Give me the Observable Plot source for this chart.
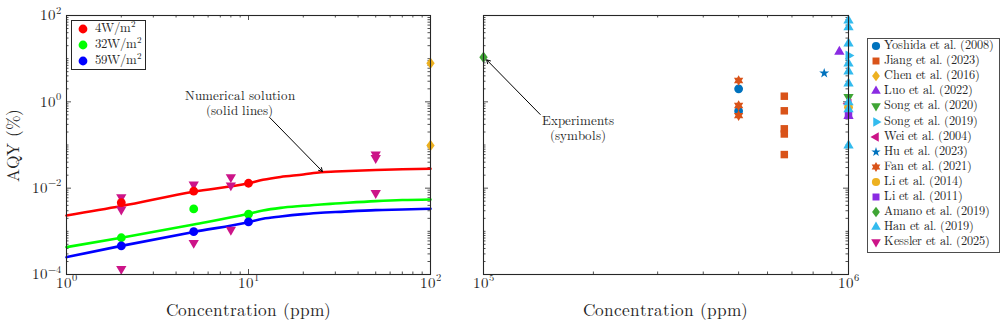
<!DOCTYPE html>
<html>
<head>
<meta charset="utf-8">
<script src="https://cdn.jsdelivr.net/npm/d3@7"></script>
<script src="https://cdn.jsdelivr.net/npm/@observablehq/plot@0.6"></script>
<style>
  /* Computer Modern with a compact line box (glyphs unchanged) */
  @font-face {
    font-family: "CM Tight";
    src: local("CMU Serif Roman"), local("CMUSerif-Roman"), local("CMU Serif"),
         local("LMRoman10-Regular"), local("Latin Modern Roman 10 Regular"), local("Latin Modern Roman");
    ascent-override: 78%;
    descent-override: 22%;
    line-gap-override: 0%;
  }
  body { margin: 0; background: #fff; }
  #fig { position: relative; width: 1006px; height: 327px; overflow: hidden;
         font-family: "CM Tight", "CMU Serif", "Latin Modern Roman", "Liberation Serif", serif; color: #262626; }
  #fig svg.panel { position: absolute; top: 0; overflow: visible; }
  .lbl { position: absolute; white-space: nowrap; transform: translate(-50%, -50%); line-height: 1; }
  .legend { position: absolute; background: #fff; box-sizing: border-box; }
  .legend .row { position: absolute; left: 0; white-space: nowrap; line-height: 1; }
  .legend svg { position: absolute; overflow: visible; }
  .legend .txt { position: absolute; transform: translateY(-50%); }
  sup { font-size: 9px; vertical-align: 5px; line-height: 0; }
</style>
</head>
<body>
<div id="fig"></div>
<script>
// ---------- model: AQY (%) vs NO concentration (ppm), numerical solution ----------
const concGrid = [1, 2, 5, 10, 12, 15, 20, 25, 30, 50, 70, 100];
const aqy4W  = [0.00233, 0.00387, 0.0083, 0.0130, 0.0156, 0.0182, 0.0207, 0.0234, 0.0243, 0.0264, 0.0274, 0.0281];
const aqy32W = [0.00043, 0.00071, 0.00144, 0.00255, 0.00304, 0.0035, 0.0039, 0.0042, 0.0044, 0.0050, 0.0053, 0.00546];
const aqy59W = [0.000252, 0.00046, 0.00097, 0.00163, 0.00195, 0.0022, 0.0025, 0.0027, 0.0028, 0.0031, 0.0032, 0.00333];

// model evaluations shown as filled circles
const modelConc = [2, 5, 10];
const point4W  = [0.0046, 0.0085, 0.013];
const point32W = [0.00071, 0.0033, 0.0025];
const point59W = [0.00046, 0.00098, 0.00165];
const irradianceLabels = ["4", "32", "59"];

// ---------- experiments: [concentration (ppm), AQY (%)] ----------
const studies = ["Yoshida et al. (2008)", "Jiang et al. (2023)", "Chen et al. (2016)", "Luo et al. (2022)",
  "Song et al. (2020)", "Song et al. (2019)", "Wei et al. (2004)", "Hu et al. (2023)", "Fan et al. (2021)",
  "Li et al. (2014)", "Li et al. (2011)", "Amano et al. (2019)", "Han et al. (2019)", "Kessler et al. (2025)"];
const yoshida2008 = [[5e5, 2.0], [5e5, 0.61]];
const jiang2023   = [[6.67e5, 1.35], [6.67e5, 0.62], [6.67e5, 0.237], [6.67e5, 0.18], [6.67e5, 0.060]];
const chen2016    = [[100, 7.85], [100, 0.0975]];
const luo2022     = [[9.44e5, 14.5], [1e6, 0.47]];
const song2020    = [[1e6, 1.3]];
const song2019    = [[1e6, 11.8]];
const wei2004     = [[1e6, 0.9]];
const hu2023      = [[8.58e5, 4.6]];
const fan2021     = [[5e5, 3.12], [5e5, 0.82], [5e5, 0.48]];
const li2014      = [[1e6, 0.75]];
const li2011      = [[1e6, 0.5]];
const amano2019   = [[1e5, 10.8]];
const han2019     = [[1e6, 76], [1e6, 53], [1e6, 22.4], [1e6, 7.7], [1e6, 5.05], [1e6, 2.66], [1e6, 0.97], [1e6, 0.67], [1e6, 0.0975]];
const kessler2025 = [[2, 0.0062], [2, 0.0032], [2, 0.000135], [5, 0.0122], [5, 0.00054],
                     [8, 0.018], [8, 0.0116], [8, 0.00109], [50, 0.060], [50, 0.050], [50, 0.0077]];
const studyData = [yoshida2008, jiang2023, chen2016, luo2022, song2020, song2019, wei2004, hu2023,
                   fan2021, li2014, li2011, amano2019, han2019, kessler2025];

// ---------- axes ----------
const xDomainLeft = [1, 100];
const xDomainRight = [1e5, 1e6];
const yDomain = [1e-4, 1e2];
const xLabelsLeft = [1, 10, 100];
const xLabelsRight = [1e5, 1e6];
const yLabels = [1e-4, 1e-2, 1, 1e2];

// ---------- styling ----------
const ink = "#262626";
const serif = "CM Tight, CMU Serif, Latin Modern Roman, Liberation Serif, serif";
const modelColors = ["#ff0000", "#00ff00", "#0000ff"];

const poly = pts => ({ draw(ctx, size) {
  const r = Math.sqrt(size / Math.PI);
  pts.forEach(([a, b], i) => i ? ctx.lineTo(a * r, b * r) : ctx.moveTo(a * r, b * r));
  ctx.closePath();
}});
const tri = (rot) => {
  const R = 1.35;
  return poly([0, 1, 2].map(k => {
    const ang = rot + k * 2 * Math.PI / 3;
    return [R * Math.cos(ang), R * Math.sin(ang)];
  }));
};
const symbols = {
  circle: { draw(ctx, size) { const r = Math.sqrt(size / Math.PI); ctx.moveTo(r, 0); ctx.arc(0, 0, r, 0, 2 * Math.PI); } },
  square: poly([[-0.85, -0.85], [0.85, -0.85], [0.85, 0.85], [-0.85, 0.85]]),
  diamond: poly([[0, -1.3], [0.95, 0], [0, 1.3], [-0.95, 0]]),
  triUp: tri(-Math.PI / 2),
  triDown: tri(Math.PI / 2),
  triRight: tri(0),
  triLeft: tri(Math.PI),
  pentagram: poly(d3.range(10).map(k => {
    const rad = k % 2 ? 0.46 : 1.2, ang = -Math.PI / 2 + k * Math.PI / 5;
    return [rad * Math.cos(ang), rad * Math.sin(ang)];
  })),
  hexagram: { draw(ctx, size) {
    const r = Math.sqrt(size / Math.PI) * 1.22;
    for (const start of [-Math.PI / 2, Math.PI / 2]) {
      for (let k = 0; k < 3; k++) {
        const ang = start + k * 2 * Math.PI / 3;
        k ? ctx.lineTo(r * Math.cos(ang), r * Math.sin(ang)) : ctx.moveTo(r * Math.cos(ang), r * Math.sin(ang));
      }
      ctx.closePath();
    }
  }}
};
const studyStyle = [
  ["#0072bd", symbols.circle], ["#d95319", symbols.square], ["#edb120", symbols.diamond],
  ["#8a2be2", symbols.triUp], ["#3fa535", symbols.triDown], ["#33bbee", symbols.triRight],
  ["#cc1488", symbols.triLeft], ["#0072bd", symbols.pentagram], ["#d95319", symbols.hexagram],
  ["#edb120", symbols.circle], ["#8a2be2", symbols.square], ["#3fa535", symbols.diamond],
  ["#33bbee", symbols.triUp], ["#cc1488", symbols.triDown]
];
const R_MARK = 4.4;

// ---------- helpers ----------
const fig = document.getElementById("fig");
const H = 327, MT = 15, MB = 53, FH = H - MT - MB;

function expOf(v) { return Math.round(Math.log10(v)); }
const powLabel = v => "10^" + expOf(v);
function minorTicks(domain, majors) {
  return d3.scaleLog().domain(domain).ticks().filter(t => !majors.some(m => Math.abs(t / m - 1) < 1e-9));
}
function frameTicks(xDomain, xMajor, yMajor, fw) {
  const xMinor = minorTicks(xDomain, xMajor), yMinor = minorTicks(yDomain, yMajor);
  const s = { stroke: ink, strokeWidth: 0.8 };
  return [
    Plot.tickX(xMinor, { x: d => d, insetTop: FH - 2.5, ...s }),
    Plot.tickX(xMinor, { x: d => d, insetBottom: FH - 2.5, ...s }),
    Plot.tickX(xMajor, { x: d => d, insetTop: FH - 5, ...s }),
    Plot.tickX(xMajor, { x: d => d, insetBottom: FH - 5, ...s }),
    Plot.tickY(yMinor, { y: d => d, insetRight: fw - 2.5, ...s }),
    Plot.tickY(yMinor, { y: d => d, insetLeft: fw - 2.5, ...s }),
    Plot.tickY(yMajor, { y: d => d, insetRight: fw - 5, ...s }),
    Plot.tickY(yMajor, { y: d => d, insetLeft: fw - 5, ...s })
  ];
}
function studyMarks(filter) {
  return studyData.map((pts, i) => Plot.dot(pts.filter(p => filter(p[0])), {
    x: d => d[0], y: d => d[1], r: R_MARK, fill: studyStyle[i][0], symbol: studyStyle[i][1]
  }));
}
function superscripts(svg) {
  svg.querySelectorAll("text").forEach(t => {
    const m = /^(\d+)\^(-?\d+)$/.exec(t.textContent);
    if (!m) return;
    t.textContent = "";
    const ns = "http://www.w3.org/2000/svg";
    const base = document.createElementNS(ns, "tspan");
    base.textContent = m[1];
    const sup = document.createElementNS(ns, "tspan");
    sup.textContent = m[2].replace("-", "\u2212");
    sup.setAttribute("font-size", "10.5");
    sup.setAttribute("dy", "-0.62em");
    t.append(base, sup);
  });
}
function place(svg, left) {
  svg.classList.add("panel");
  svg.style.left = left + "px";
  superscripts(svg);
  fig.appendChild(svg);
}
function label(text, x, y, size, rotate) {
  const d = document.createElement("div");
  d.className = "lbl";
  d.textContent = text;
  d.style.left = x + "px"; d.style.top = y + "px";
  d.style.fontSize = size + "px";
  if (rotate) d.style.transform = "translate(-50%, -50%) rotate(-90deg)";
  fig.appendChild(d);
}
const textStyle = { fontFamily: serif, fill: ink };

// ---------- left panel: low concentration ----------
const leftW = 440, leftML = 66, leftMR = 10;
const curves = [aqy4W, aqy32W, aqy59W].map((ys, k) =>
  concGrid.map((c, i) => ({ c, v: ys[i], k })));
const modelPts = [point4W, point32W, point59W].map((ys, k) =>
  modelConc.map((c, i) => ({ c, v: ys[i], k })));

const left = Plot.plot({
  width: leftW, height: H, marginLeft: leftML, marginRight: leftMR, marginTop: MT, marginBottom: MB,
  style: { fontFamily: serif, fontSize: "15px", color: ink, background: "transparent", overflow: "visible" },
  x: { type: "log", domain: xDomainLeft, axis: null },
  y: { type: "log", domain: yDomain, axis: null },
  marks: [
    ...frameTicks(xDomainLeft, xLabelsLeft, yLabels, leftW - leftML - leftMR),
    ...curves.map((pts, k) => Plot.line(pts, { x: "c", y: "v", stroke: modelColors[k], strokeWidth: 2.6, curve: "monotone-x" })),
    ...studyMarks(c => c <= 100),
    ...modelPts.map((pts, k) => Plot.dot(pts, { x: "c", y: "v", r: 4.4, fill: modelColors[k] })),
    Plot.arrow([{ x1: 13.1, y1: 0.43, x2: 25.7, y2: 0.0235 }],
      { x1: "x1", y1: "y1", x2: "x2", y2: "y2", stroke: "#000", strokeWidth: 1, headLength: 6, insetEnd: 1 }),
    Plot.text(["Numerical solution\n(solid lines)"], { x: 8.94, y: 0.96, fontSize: 13, lineHeight: 1.18, ...textStyle }),
    Plot.frame({ stroke: ink, strokeWidth: 1.1 }),
    Plot.text(xLabelsLeft, { x: d => d, frameAnchor: "bottom", dy: 13, text: powLabel, textAnchor: "middle", fontSize: 15, ...textStyle }),
    Plot.text(yLabels, { y: d => d, frameAnchor: "left", dx: -6, text: powLabel, textAnchor: "end", fontSize: 15, ...textStyle })
  ]
});
place(left, 0);

// ---------- right panel: high concentration ----------
const rightW = 420, rightML = 43, rightMR = 12;
const right = Plot.plot({
  width: rightW, height: H, marginLeft: rightML, marginRight: rightMR, marginTop: MT, marginBottom: MB,
  style: { fontFamily: serif, fontSize: "15px", color: ink, background: "transparent", overflow: "visible" },
  x: { type: "log", domain: xDomainRight, axis: null },
  y: { type: "log", domain: yDomain, axis: null },
  marks: [
    ...frameTicks(xDomainRight, xLabelsRight, yLabels, rightW - rightML - rightMR),
    ...studyMarks(c => c >= 1e5),
    Plot.arrow([{ x1: 1.43e5, y1: 0.51, x2: 1.02e5, y2: 9.4 }],
      { x1: "x1", y1: "y1", x2: "x2", y2: "y2", stroke: "#000", strokeWidth: 1, headLength: 6 }),
    Plot.text(["Experiments\n(symbols)"], { x: 1.81e5, y: 0.252, fontSize: 13, lineHeight: 1.18, ...textStyle }),
    Plot.frame({ stroke: ink, strokeWidth: 1.1 }),
    Plot.text(xLabelsRight, { x: d => d, frameAnchor: "bottom", dy: 13, text: powLabel, textAnchor: "middle", fontSize: 15, ...textStyle })
  ]
});
place(right, 440);

// ---------- axis titles ----------
label("Concentration (ppm)", 248, 312, 17.3);
label("Concentration (ppm)", 665.5, 312, 17.3);
label("AQY (%)", 15, 144.5, 17.3, true);

// ---------- legends ----------
function symbolSvg(sym, color, r) {
  const p = d3.path();
  sym.draw(p, Math.PI * r * r);
  return `<svg width="1" height="1" style="left:0;top:0"><path d="${p}" fill="${color}"/></svg>`;
}
function legend(box, rows, border) {
  const el = document.createElement("div");
  el.className = "legend";
  Object.assign(el.style, { left: box.x + "px", top: box.y + "px", width: box.w + "px", height: box.h + "px",
    border: `1px solid ${border}`, fontSize: box.font + "px" });
  rows.forEach((row, i) => {
    const cy = box.first + i * box.step;
    const s = document.createElement("div");
    s.className = "row";
    s.innerHTML = symbolSvg(row.sym, row.color, box.r);
    s.firstChild.style.left = box.sx + "px";
    s.firstChild.style.top = cy + "px";
    const t = document.createElement("div");
    t.className = "txt";
    t.style.left = box.tx + "px";
    t.style.top = cy + "px";
    t.innerHTML = row.html;
    s.appendChild(t);
    el.appendChild(s);
  });
  fig.appendChild(el);
}
legend({ x: 70.5, y: 20, w: 75, h: 49.5, first: 8.3, step: 15.7, sx: 11.5, tx: 23.5, r: 4.4, font: 12.8 },
  irradianceLabels.map((w, k) => ({ sym: symbols.circle, color: modelColors[k], html: `${w}W/m<sup>2</sup>` })), ink);
legend({ x: 867, y: 37.5, w: 132.5, h: 215, first: 7.5, step: 15.1, sx: 7.5, tx: 15.5, r: 4.1, font: 12.3 },
  studies.map((name, i) => ({ sym: studyStyle[i][1], color: studyStyle[i][0], html: name })), "#4d4d4d");
</script>
</body>
</html>
